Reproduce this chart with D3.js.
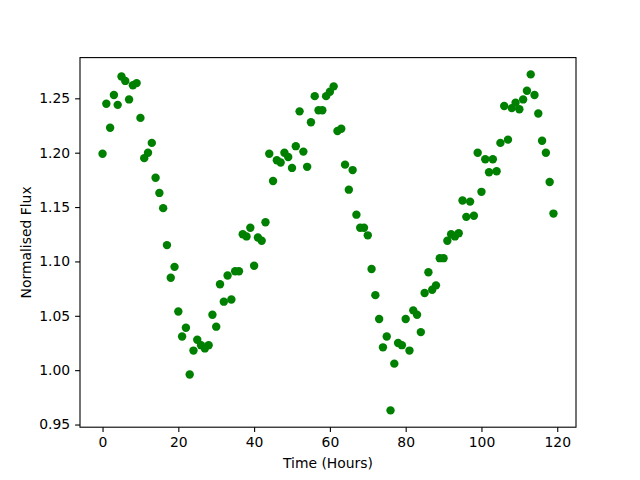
<!doctype html>
<html>
  <head>
    <style>
      body { margin: 0; background: #fff; }
      text { font-family: "DejaVu Sans", sans-serif; }
    </style>
    <script src="https://cdn.jsdelivr.net/npm/d3@7"></script>
  </head>
  <body>
  </body>
  <script>
    // one reading per hour
    const hours = d3.range(0, 120);
    const flux = [
      1.199, 1.245, 1.223, 1.253, 1.244, 1.270, 1.266, 1.249, 1.262, 1.264,
      1.232, 1.195, 1.200, 1.209, 1.177, 1.163, 1.149, 1.115, 1.085, 1.095,
      1.054, 1.031, 1.039, 0.996, 1.018, 1.028, 1.023, 1.020, 1.023, 1.051,
      1.040, 1.079, 1.063, 1.087, 1.065, 1.091, 1.091, 1.125, 1.123, 1.131,
      1.096, 1.122, 1.119, 1.136, 1.199, 1.174, 1.193, 1.191, 1.200, 1.196,
      1.186, 1.206, 1.238, 1.201, 1.187, 1.228, 1.252, 1.239, 1.239, 1.252,
      1.256, 1.261, 1.220, 1.222, 1.189, 1.166, 1.184, 1.143, 1.131, 1.131,
      1.124, 1.093, 1.069, 1.047, 1.021, 1.031, 0.963, 1.006, 1.025, 1.023,
      1.047, 1.018, 1.055, 1.051, 1.035, 1.071, 1.090, 1.074, 1.078, 1.103,
      1.103, 1.119, 1.125, 1.123, 1.126, 1.156, 1.141, 1.155, 1.142, 1.200,
      1.164, 1.194, 1.182, 1.194, 1.183, 1.209, 1.243, 1.212, 1.241, 1.246,
      1.240, 1.249, 1.257, 1.272, 1.253, 1.236, 1.211, 1.200, 1.173, 1.144
    ];
    const xTicks = [0, 20, 40, 60, 80, 100, 120];
    const yTicks = [0.95, 1.00, 1.05, 1.10, 1.15, 1.20, 1.25];

    // matplotlib default axes box in a 640x480 figure
    var width = 640, height = 480,
        margin = {top: 57.6, right: 64, bottom: 52.8, left: 80},
        w = width - margin.left - margin.right,
        h = height - margin.top - margin.bottom;

    var svg = d3.select("body").append("svg")
        .attr("width", width)
        .attr("height", height),
      g = svg.append("g")
        .attr("transform", "translate(" + margin.left + "," + margin.top + ")");

    // 5% padding like matplotlib autoscale
    var xExt = d3.extent(hours), yExt = d3.extent(flux),
        xPad = (xExt[1] - xExt[0]) * 0.05, yPad = (yExt[1] - yExt[0]) * 0.05;

    var x = d3.scaleLinear().domain([xExt[0] - xPad, xExt[1] + xPad]).range([0, w]);
    var y = d3.scaleLinear().domain([yExt[0] - yPad, yExt[1] + yPad]).range([h, 0]);

    g.selectAll(".dot")
        .data(hours)
      .enter().append("circle")
        .attr("class", "dot")
        .attr("cx", function(d) { return x(d); })
        .attr("cy", function(d, i) { return y(flux[i]); })
        .attr("r", 4.2)
        .style("fill", "#008000");

    var xAxis = g.append("g")
        .attr("transform", "translate(0," + h + ")")
        .call(d3.axisBottom(x).tickValues(xTicks).tickSize(4.9).tickPadding(4.9)
          .tickFormat(d3.format("d")));
    var yAxis = g.append("g")
        .call(d3.axisLeft(y).tickValues(yTicks).tickSize(4.9).tickPadding(4.9)
          .tickFormat(d3.format(".2f")));

    [xAxis, yAxis].forEach(function(a) {
      a.select(".domain").remove();
      a.selectAll("line").style("stroke", "#000").style("stroke-width", 1.1);
      a.selectAll("text").style("font-size", "13.9px").style("fill", "#000")
        .style("font-family", "'DejaVu Sans', sans-serif");
    });

    // axes frame
    g.append("rect")
        .attr("width", w)
        .attr("height", h)
        .style("fill", "none")
        .style("stroke", "#000")
        .style("stroke-width", 1.1);

    svg.append("text")
        .attr("x", margin.left + w / 2)
        .attr("y", 468)
        .style("text-anchor", "middle")
        .style("font-size", "13.9px")
        .text("Time (Hours)");

    svg.append("text")
        .attr("transform", "translate(31," + (margin.top + h / 2) + ") rotate(-90)")
        .style("text-anchor", "middle")
        .style("font-size", "13.9px")
        .text("Normalised Flux");
  </script>
</html>
